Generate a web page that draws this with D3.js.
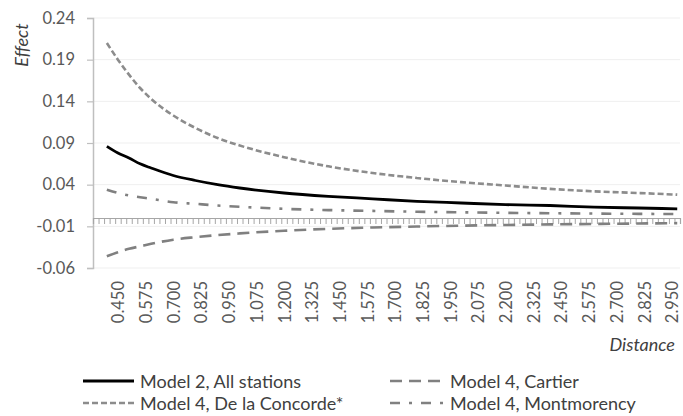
<!DOCTYPE html>
<html>
<head>
<meta charset="utf-8">
<script src="https://cdn.jsdelivr.net/npm/d3@7"></script>
<style>
  html, body { margin: 0; padding: 0; background: #fff; }
  svg text { font-family: Lato, "Open Sans", sans-serif; }
</style>
</head>
<body>
<svg id="chart" width="683" height="416"></svg>
<script>
// Distance (km) at which each effect was estimated
const distance = [0.400, 0.450, 0.500, 0.550, 0.600, 0.700, 0.800, 0.900, 1.000, 1.200,
                  1.400, 1.600, 1.800, 2.000, 2.200, 2.400, 2.600, 2.800, 2.975];

// Estimated effect by model / station
const allStations = [0.086, 0.078, 0.072, 0.065, 0.060, 0.051, 0.045, 0.040, 0.036, 0.030,
                     0.026, 0.023, 0.020, 0.018, 0.016, 0.015, 0.013, 0.012, 0.011];
const cartier = [-0.046, -0.041, -0.037, -0.034, -0.031, -0.026, -0.023, -0.0205, -0.0185, -0.0153,
                 -0.013, -0.0114, -0.0102, -0.0092, -0.0084, -0.0077, -0.0071, -0.0066, -0.0062];
const concorde = [0.210, 0.190, 0.172, 0.156, 0.143, 0.123, 0.108, 0.096, 0.087, 0.073,
                  0.062, 0.054, 0.048, 0.043, 0.039, 0.035, 0.032, 0.030, 0.028];
const montmorency = [0.034, 0.030, 0.027, 0.025, 0.023, 0.019, 0.017, 0.015, 0.0135, 0.011,
                     0.0095, 0.0085, 0.0075, 0.0068, 0.0062, 0.0057, 0.0053, 0.0050, 0.0047];

const seriesNames = ["Model 2, All stations", "Model 4, Cartier",
                     "Model 4, De la Concorde*", "Model 4, Montmorency"];

// Axis tick labels
const xTickLabels = ["0.450", "0.575", "0.700", "0.825", "0.950", "1.075", "1.200", "1.325",
                     "1.450", "1.575", "1.700", "1.825", "1.950", "2.075", "2.200", "2.325",
                     "2.450", "2.575", "2.700", "2.825", "2.950"];
const yTickLabels = ["-0.06", "-0.01", "0.04", "0.09", "0.14", "0.19", "0.24"];

// Category grid: 0.025 steps from 0.350 to 2.975
const catStep = 0.025, catFirst = 0.350, catLast = 2.975;

const svg = d3.select("#chart");
const plot = { left: 93, right: 680, top: 18, bottom: 268 };

const x = d3.scaleLinear()
  .domain([catFirst - catStep / 2, catLast + catStep / 2])
  .range([plot.left, plot.right]);
const y = d3.scaleLinear()
  .domain([+yTickLabels[0], +yTickLabels[yTickLabels.length - 1]])
  .range([plot.bottom, plot.top]);

const textColor = "#595959";

// Horizontal gridlines
svg.append("g")
  .selectAll("line")
  .data(yTickLabels.map(Number))
  .join("line")
  .attr("x1", plot.left).attr("x2", plot.right)
  .attr("y1", d => y(d)).attr("y2", d => y(d))
  .attr("stroke", "#efefef").attr("stroke-width", 1);

// Vertical axis
const yAxis = svg.append("g")
  .attr("transform", `translate(${plot.left},0)`)
  .call(d3.axisLeft(y)
    .tickValues(yTickLabels.map(Number))
    .tickFormat((d, i) => yTickLabels[i])
    .tickSize(6).tickPadding(12));
yAxis.select(".domain").attr("stroke", "#bfbfbf").attr("stroke-width", 1.5);
yAxis.selectAll(".tick line").attr("stroke", "#bfbfbf").attr("stroke-width", 1.2);
yAxis.selectAll(".tick text")
  .attr("fill", textColor).style("font-size", "16.5px");

// Horizontal axis along zero, with a tick at every category boundary
const boundaries = d3.range(0, Math.round((catLast - catFirst) / catStep) + 2)
  .map(k => catFirst - catStep / 2 + k * catStep);
const xAxis = svg.append("g")
  .attr("transform", `translate(0,${y(0)})`)
  .call(d3.axisBottom(x).tickValues(boundaries).tickFormat("").tickSize(6));
xAxis.select(".domain").attr("stroke", "#a6a6a6").attr("stroke-width", 1.2);
xAxis.selectAll(".tick line").attr("stroke", "#a6a6a6").attr("stroke-width", 1);

// Category labels below the plot, rotated
const xLab = svg.append("g")
  .attr("transform", `translate(0,${plot.bottom})`)
  .call(d3.axisBottom(x)
    .tickValues(xTickLabels.map(Number))
    .tickFormat((d, i) => xTickLabels[i])
    .tickSize(0));
xLab.select(".domain").remove();
xLab.selectAll(".tick text")
  .attr("fill", textColor)
  .style("font-size", "16.5px")
  .attr("text-anchor", "end")
  .attr("dominant-baseline", "central")
  .attr("transform", "translate(0,13) rotate(-90)")
  .attr("x", 0).attr("y", 0).attr("dy", null);

// Axis titles
svg.append("text")
  .attr("transform", "translate(28,45) rotate(-90)")
  .attr("text-anchor", "middle")
  .attr("fill", "#404040")
  .style("font-size", "18px").style("font-style", "italic")
  .text("Effect");
svg.append("text")
  .attr("x", 675).attr("y", 351)
  .attr("text-anchor", "end")
  .attr("fill", "#404040")
  .style("font-size", "18px").style("font-style", "italic")
  .text("Distance");

// Series styles
const styles = [
  { values: allStations, color: "#000000", dash: null, width: 2.8 },
  { values: cartier, color: "#808080", dash: "12,7", width: 2.6 },
  { values: concorde, color: "#8c8c8c", dash: "6,3", width: 2.6 },
  { values: montmorency, color: "#808080", dash: "10,9,3,9", width: 2.6 }
];

const line = d3.line()
  .x(d => x(d[0]))
  .y(d => y(d[1]))
  .curve(d3.curveMonotoneX);

svg.append("g")
  .selectAll("path")
  .data(styles)
  .join("path")
  .attr("d", s => line(distance.map((dv, i) => [dv, s.values[i]])))
  .attr("fill", "none")
  .attr("stroke", s => s.color)
  .attr("stroke-width", s => s.width)
  .attr("stroke-dasharray", s => s.dash);

// Legend, two columns
const legendPos = [
  { x: 83, y: 381 }, { x: 390, y: 381 },
  { x: 83, y: 403 }, { x: 390, y: 403 }
];
const legend = svg.append("g")
  .selectAll("g")
  .data(styles)
  .join("g")
  .attr("transform", (s, i) => `translate(${legendPos[i].x},${legendPos[i].y})`);
legend.append("line")
  .attr("x1", 0).attr("x2", (s, i) => i % 2 === 0 ? 51 : 55)
  .attr("y1", 0).attr("y2", 0)
  .attr("stroke", s => s.color)
  .attr("stroke-width", s => s.width)
  .attr("stroke-dasharray", s => s.dash);
legend.append("text")
  .attr("x", (s, i) => i % 2 === 0 ? 57 : 60)
  .attr("y", 0)
  .attr("dominant-baseline", "central")
  .attr("fill", "#404040")
  .style("font-size", "18px")
  .text((s, i) => seriesNames[i]);
</script>
</body>
</html>
